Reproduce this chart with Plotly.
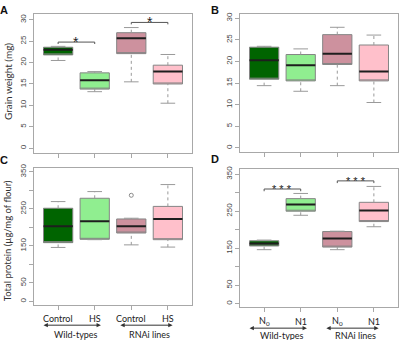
import plotly.graph_objects as go

# ---------------- data ----------------
positions = [1, 2, 3, 4]
box_colors = ["#006400", "#90EE90", "#CD919E", "#FFC0CB"]

# Panel A: grain weight (mg)
a_low = [20.5, 13.2, 15.5, 10.5]
a_q1 = [21.8, 13.8, 22.1, 15.0]
a_med = [23.0, 15.9, 25.7, 17.9]
a_q3 = [23.6, 17.6, 27.0, 19.4]
a_high = [23.8, 17.9, 28.2, 21.9]

# Panel B: grain weight (mg)
b_low = [14.4, 13.1, 14.4, 10.5]
b_q1 = [15.9, 15.5, 19.3, 15.5]
b_med = [20.3, 19.1, 21.8, 17.7]
b_q3 = [23.3, 21.6, 26.2, 23.8]
b_high = [23.5, 22.9, 27.9, 26.1]

# Panel C: total protein
c_low = [146, 167, 153, 147]
c_q1 = [159, 168, 185, 167]
c_med = [203, 217, 203, 223]
c_q3 = [252, 279, 223, 257]
c_high = [270, 297, 225, 316]
c_out_x = [3]
c_out_y = [287]

# Panel D: total protein
d_low = [146, 239, 146, 208]
d_q1 = [156, 250, 153, 222]
d_med = [163, 268, 176, 252]
d_q3 = [170, 284, 195, 274]
d_high = [172, 298, 196, 317]

weight_ticks = [0, 5, 10, 15, 20, 25, 30]
protein_ticks = [0, 50, 150, 250, 350]
protein_minor_ticks = [100, 200, 300]

cd_labels = ["Control", "HS", "Control", "HS"]
d_labels = ["N<sub>0</sub>", "N1", "N<sub>0</sub>", "N1"]
group_labels = ["Wild-types", "RNAi lines"]
group_centers = [1.5, 3.5]
arrow_spans = [(0.6, 2.17), (2.7, 4.13)]

# significance brackets: (x_left, x_right, y, text)
a_sig = [(1, 2, 24.8, "*"), (3, 4, 29.4, "*")]
d_sig = [(1, 2, 310, "* * *"), (3, 4, 332, "* * *")]

# ---------------- figure ----------------
W, H = 400, 340
fig = go.Figure()

FRAME = "#A8A8A8"
TICKFONT = dict(family="Liberation Sans, Arial", size=8, color="#444444")
LABFONT = dict(family="Lato, Open Sans", size=9, color="#222222")

panels = [
    ("x", "y", a_low, a_q1, a_med, a_q3, a_high),
    ("x2", "y2", b_low, b_q1, b_med, b_q3, b_high),
    ("x3", "y3", c_low, c_q1, c_med, c_q3, c_high),
    ("x4", "y4", d_low, d_q1, d_med, d_q3, d_high),
]

HALF = 0.4
CAP = 0.2
for xa, ya, lo, q1, med, q3, hi in panels:
    for i, p in enumerate(positions):
        fig.add_trace(go.Box(
            x=[p], q1=[q1[i]], median=[q1[i]], q3=[q3[i]],
            lowerfence=[q1[i]], upperfence=[q3[i]],
            fillcolor=box_colors[i], line=dict(color="#858585", width=1),
            width=0.8, whiskerwidth=0, boxpoints=False,
            xaxis=xa, yaxis=ya, showlegend=False, hoverinfo="skip"))
    wx, wy, cx, cy, mx, my = [], [], [], [], [], []
    for i, p in enumerate(positions):
        wx += [p, p, None, p, p, None]
        wy += [lo[i], q1[i], None, q3[i], hi[i], None]
        cx += [p - CAP, p + CAP, None, p - CAP, p + CAP, None]
        cy += [lo[i], lo[i], None, hi[i], hi[i], None]
        mx += [p - HALF, p + HALF, None]
        my += [med[i], med[i], None]
    fig.add_trace(go.Scatter(x=wx, y=wy, mode="lines", xaxis=xa, yaxis=ya,
                             line=dict(color="#9A9A9A", width=1, dash="dot"),
                             showlegend=False, hoverinfo="skip"))
    fig.add_trace(go.Scatter(x=cx, y=cy, mode="lines", xaxis=xa, yaxis=ya,
                             line=dict(color="#9A9A9A", width=1),
                             showlegend=False, hoverinfo="skip"))
    fig.add_trace(go.Scatter(x=mx, y=my, mode="lines", xaxis=xa, yaxis=ya,
                             line=dict(color="#1E1E1E", width=2),
                             showlegend=False, hoverinfo="skip"))

fig.add_trace(go.Scatter(x=c_out_x, y=c_out_y, mode="markers", xaxis="x3", yaxis="y3",
                         marker=dict(symbol="circle-open", size=4, color="#8A8A8A",
                                     line=dict(width=1)),
                         showlegend=False, hoverinfo="skip"))

def add_brackets(sigs, xa, ya, drop, size):
    for x0, x1, y, txt in sigs:
        fig.add_trace(go.Scatter(x=[x0, x0, x1, x1], y=[y - drop, y, y, y - drop],
                                 mode="lines", xaxis=xa, yaxis=ya,
                                 line=dict(color="#555555", width=1),
                                 showlegend=False, hoverinfo="skip"))
        fig.add_annotation(x=(x0 + x1) / 2, y=y, xref=xa, yref=ya, text=txt,
                           showarrow=False, xanchor="center", yanchor="middle", yshift=0,
                           font=dict(family="Liberation Sans, Arial", size=size, color="#222222"))

add_brackets(a_sig, "x", "y", 0.45, 14)
add_brackets(d_sig, "x4", "y4", 6, 11)

def px_x(a, b):
    return [a / W, b / W]

def px_y(top, bottom):
    return [1 - bottom / H, 1 - top / H]

xcommon = dict(range=[0.34, 4.66], tickvals=positions, showticklabels=False,
               ticks="outside", ticklen=4, tickcolor=FRAME, showline=True, mirror=True,
               linecolor=FRAME, linewidth=1, showgrid=False, zeroline=False, fixedrange=True)
ycommon = dict(ticks="outside", ticklen=4, tickcolor=FRAME, showline=True, mirror=True,
               linecolor=FRAME, linewidth=1, showgrid=False, zeroline=False,
               tickangle=-90, tickfont=TICKFONT, fixedrange=True)
minor_y = dict(tickvals=protein_minor_ticks, ticks="outside", ticklen=4,
               tickcolor=FRAME, showgrid=False)

fig.update_layout(
    xaxis=dict(domain=px_x(34, 192), anchor="y", **xcommon),
    yaxis=dict(domain=px_y(10, 151), anchor="x", range=[-1.2, 31.4],
               tickvals=weight_ticks, **ycommon),
    xaxis2=dict(domain=px_x(240, 398), anchor="y2", **xcommon),
    yaxis2=dict(domain=px_y(10, 150), anchor="x2", range=[-1.0, 31.0],
                tickvals=weight_ticks, **ycommon),
    xaxis3=dict(domain=px_x(34, 192), anchor="y3", **xcommon),
    yaxis3=dict(domain=px_y(165.5, 305), anchor="x3", range=[-10.7, 362],
                tickvals=protein_ticks, minor=minor_y, **ycommon),
    xaxis4=dict(domain=px_x(240, 398), anchor="y4", **xcommon),
    yaxis4=dict(domain=px_y(167, 307), anchor="x4", range=[-10, 364],
                tickvals=protein_ticks, minor=minor_y, **ycommon),
    width=W, height=H, margin=dict(l=0, r=0, t=0, b=0),
    paper_bgcolor="white", plot_bgcolor="white", showlegend=False,
)

for letter, px, py in [("A", 4, 6), ("B", 215, 6), ("C", 4, 158), ("D", 215, 157)]:
    fig.add_annotation(x=px / W, y=1 - py / H, xref="paper", yref="paper",
                       text="<b>%s</b>" % letter, showarrow=False,
                       xanchor="center", yanchor="middle",
                       font=dict(family="Liberation Sans, Arial", size=11, color="#111111"))

fig.add_annotation(x=8 / W, y=1 - 79 / H, xref="paper", yref="paper", textangle=-90,
                   text="Grain weight (mg)", showarrow=False,
                   xanchor="center", yanchor="middle",
                   font=dict(family="Lato, Open Sans", size=10, color="#333333"))
fig.add_annotation(x=7 / W, y=1 - 240 / H, xref="paper", yref="paper", textangle=-90,
                   text="Total protein (µg/mg of flour)", showarrow=False,
                   xanchor="center", yanchor="middle",
                   font=dict(family="Lato, Open Sans", size=9.5, color="#333333"))

HEAD_L = 0.12
HEAD_H = 2.2 / H
for xa, labels, lab_y, arr_y, grp_y in [("x3", cd_labels, 318, 325, 334),
                                         ("x4", d_labels, 321, 328, 335)]:
    for p, t in zip(positions, labels):
        fig.add_annotation(x=p, y=1 - lab_y / H, xref=xa, yref="paper", text=t,
                           showarrow=False, xanchor="center", yanchor="middle", font=LABFONT)
    yy = 1 - arr_y / H
    for (s, e), gc, g in zip(arrow_spans, group_centers, group_labels):
        fig.add_shape(type="line", xref=xa, yref="paper", x0=s + HEAD_L * 0.5, x1=e - HEAD_L * 0.5,
                      y0=yy, y1=yy, line=dict(color="#333333", width=1))
        fig.add_shape(type="path", xref=xa, yref="paper",
                      path="M %f,%f L %f,%f L %f,%f Z" % (s, yy, s + HEAD_L, yy + HEAD_H, s + HEAD_L, yy - HEAD_H),
                      fillcolor="#333333", line=dict(width=0))
        fig.add_shape(type="path", xref=xa, yref="paper",
                      path="M %f,%f L %f,%f L %f,%f Z" % (e, yy, e - HEAD_L, yy + HEAD_H, e - HEAD_L, yy - HEAD_H),
                      fillcolor="#333333", line=dict(width=0))
        fig.add_annotation(x=gc, y=1 - grp_y / H, xref=xa, yref="paper", text=g,
                           showarrow=False, xanchor="center", yanchor="middle", font=LABFONT)

fig.write_html("out.html", config={"displayModeBar": False},
               post_script="document.body.style.margin='0px';document.body.style.overflow='hidden';")
